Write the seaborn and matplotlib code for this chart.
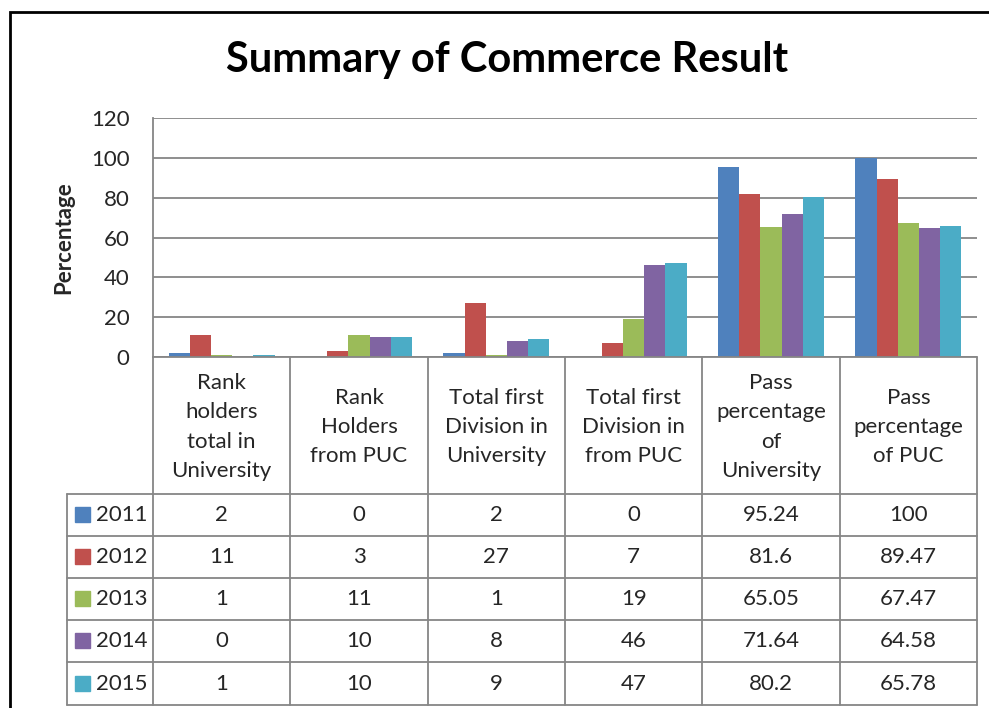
import matplotlib
matplotlib.use("Agg")
import matplotlib.pyplot as plt
import seaborn as sns
import pandas as pd
from matplotlib.lines import Line2D
from matplotlib.patches import Rectangle
from matplotlib.transforms import blended_transform_factory

categories = ["Rank\nholders\ntotal in\nUniversity", "Rank\nHolders\nfrom PUC",
              "Total first\nDivision in\nUniversity", "Total first\nDivision in\nfrom PUC",
              "Pass\npercentage\nof\nUniversity", "Pass\npercentage\nof PUC"]
years = ["2011", "2012", "2013", "2014", "2015"]
v2011 = [2, 0, 2, 0, 95.24, 100]
v2012 = [11, 3, 27, 7, 81.6, 89.47]
v2013 = [1, 11, 1, 19, 65.05, 67.47]
v2014 = [0, 10, 8, 46, 71.64, 64.58]
v2015 = [1, 10, 9, 47, 80.2, 65.78]
series = [v2011, v2012, v2013, v2014, v2015]
colors = ["#4F81BD", "#C0504D", "#9BBB59", "#8064A2", "#4BACC6"]
yticks = [0, 20, 40, 60, 80, 100, 120]

rows = []
for y, vals in zip(years, series):
    for c, v in zip(categories, vals):
        rows.append({"cat": c, "year": y, "val": v})
df = pd.DataFrame(rows)

sns.set_theme(style="white")
plt.rcParams["font.family"] = ["Lato", "DejaVu Sans"]

W, H = 989, 708
fig = plt.figure(figsize=(W / 100, H / 100), dpi=100)
def fx(px): return px / W
def fy(py): return 1 - py / H

FS = 16
ax = fig.add_axes([fx(153), fy(357), fx(977) - fx(153), fy(118) - fy(357)])
sns.barplot(data=df, x="cat", y="val", hue="year", palette=colors, order=categories,
            hue_order=years, width=0.77, linewidth=0, saturation=1, ax=ax,
            legend=False, zorder=3)
ax.set_xlim(-0.5, len(categories) - 0.5)
ax.set_ylim(0, 120)
ax.set_yticks(yticks)
ax.set_yticklabels([str(t) for t in yticks], fontsize=FS)
ax.tick_params(axis="y", length=0, pad=17)
ax.set_xticks([])
ax.set_xlabel("")
ax.set_ylabel("Percentage", fontsize=FS, fontweight="bold", labelpad=12)
ax.yaxis.grid(True, color="#868686", linewidth=1.3, zorder=0)
ax.set_axisbelow(True)
for s in ["top", "right", "bottom"]:
    ax.spines[s].set_visible(False)
ax.spines["left"].set_color("#868686")
ax.spines["left"].set_linewidth(1.3)

fig.text(fx(507), fy(60), "Summary of Commerce Result", ha="center", va="center",
         fontsize=30, fontweight="bold", color="black")

gc = "#868686"
lw = 1.3
bt = blended_transform_factory(ax.transData, fig.transFigure)
n = len(categories)
row_lines = [494, 536, 578, 620, 662, 705]
fig.add_artist(Line2D([fx(153), fx(977)], [fy(357), fy(357)], color=gc, lw=lw))
for py in row_lines:
    fig.add_artist(Line2D([fx(67), fx(977)], [fy(py), fy(py)], color=gc, lw=lw))
for i in range(n + 1):
    fig.add_artist(Line2D([i - 0.5, i - 0.5], [fy(357), fy(705)], color=gc, lw=lw,
                          transform=bt, clip_on=False))
fig.add_artist(Line2D([fx(67), fx(67)], [fy(494), fy(705)], color=gc, lw=lw))

for i, c in enumerate(categories):
    ax.text(i, fy(427), c, transform=bt, ha="center", va="center", fontsize=FS,
            linespacing=1.58, clip_on=False)

for r, (y, vals, col) in enumerate(zip(years, series, colors)):
    yc = (row_lines[r] + row_lines[r + 1]) / 2
    fig.add_artist(Rectangle((fx(75), fy(yc + 7)), fx(15), fy(0) - fy(15),
                             transform=fig.transFigure, color=col))
    fig.text(fx(96), fy(yc), y, ha="left", va="center", fontsize=FS)
    for i, v in enumerate(vals):
        ax.text(i, fy(yc), f"{v:g}", transform=bt, ha="center", va="center",
                fontsize=FS, clip_on=False)

fig.add_artist(Rectangle((fx(10), fy(760)), 1.2, fy(12) - fy(760), transform=fig.transFigure,
                         fill=False, edgecolor="black", linewidth=2))

fig.savefig("out.png", dpi=100)
